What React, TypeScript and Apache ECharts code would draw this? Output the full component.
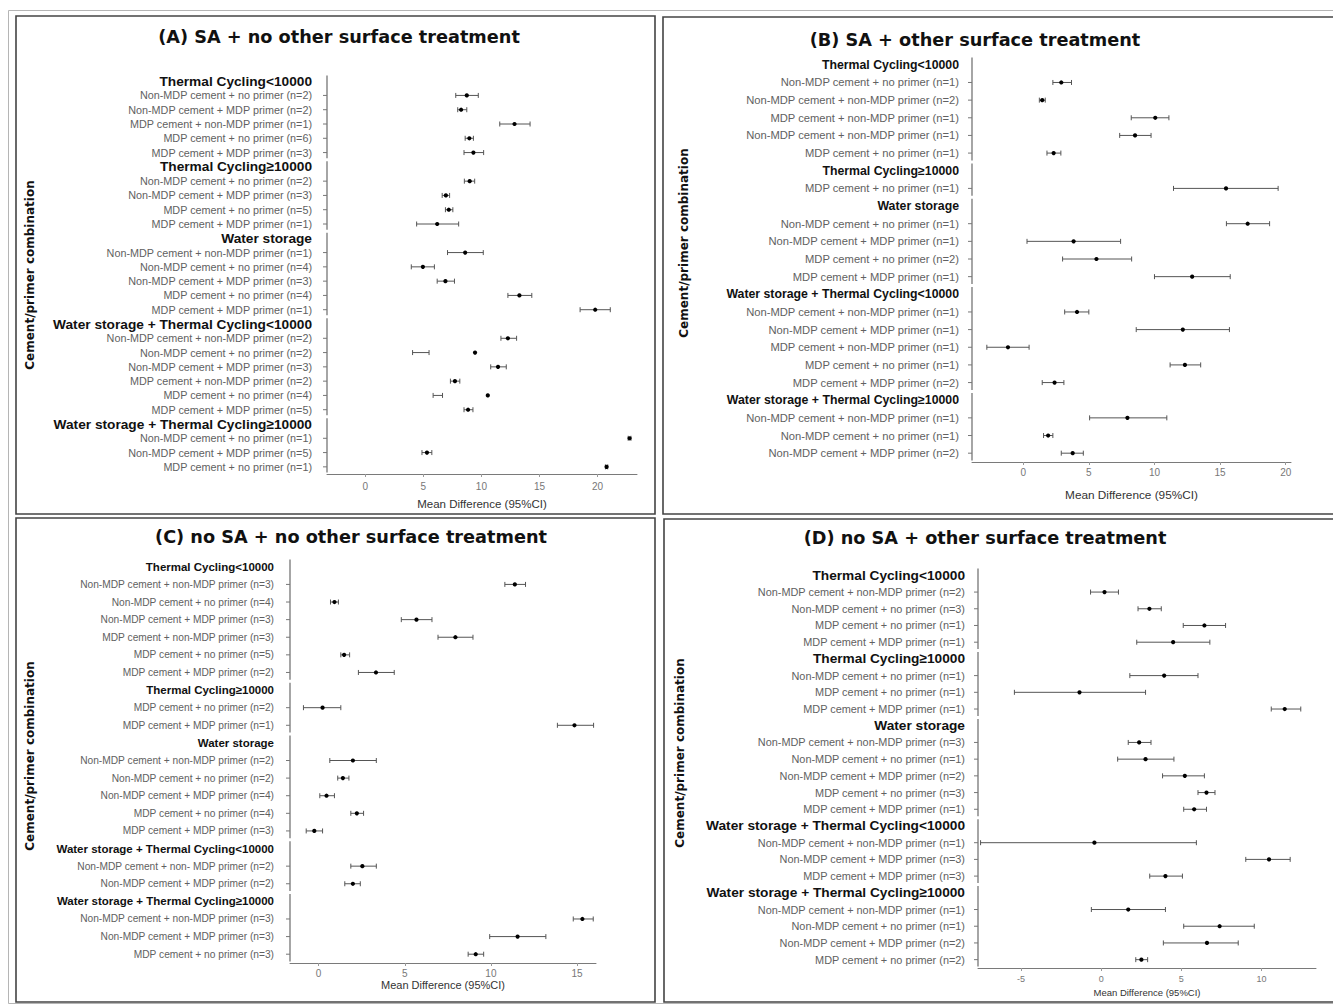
import React, { useEffect, useRef } from "react";
import * as echarts from "echarts";

// ---------- shared group headers ----------
const groupNames = [
  "Thermal Cycling<10000",
  "Thermal Cycling≥10000",
  "Water storage",
  "Water storage + Thermal Cycling<10000",
  "Water storage + Thermal Cycling≥10000",
];

// ---------- Panel A: SA + no other surface treatment ----------
const aLabels = [
  ["Non-MDP cement + no primer (n=2)", "Non-MDP cement + MDP primer (n=2)", "MDP cement + non-MDP primer (n=1)", "MDP cement + no primer (n=6)", "MDP cement + MDP primer (n=3)"],
  ["Non-MDP cement + no primer (n=2)", "Non-MDP cement + MDP primer (n=3)", "MDP cement + no primer (n=5)", "MDP cement + MDP primer (n=1)"],
  ["Non-MDP cement + non-MDP primer (n=1)", "Non-MDP cement + no primer (n=4)", "Non-MDP cement + MDP primer (n=3)", "MDP cement + no primer (n=4)", "MDP cement + MDP primer (n=1)"],
  ["Non-MDP cement + non-MDP primer (n=2)", "Non-MDP cement + no primer (n=2)", "Non-MDP cement + MDP primer (n=3)", "MDP cement + non-MDP primer (n=2)", "MDP cement + no primer (n=4)", "MDP cement + MDP primer (n=5)"],
  ["Non-MDP cement + no primer (n=1)", "Non-MDP cement + MDP primer (n=5)", "MDP cement + no primer (n=1)"],
];
const aMean = [[8.74, 8.25, 12.85, 8.96, 9.31], [8.99, 6.94, 7.19, 6.19], [8.6, 4.96, 6.9, 13.27, 19.8], [12.28, 9.45, 11.43, 7.72, 10.55, 8.85], [22.76, 5.31, 20.78]];
const aLow = [[7.79, 7.96, 11.58, 8.6, 8.5], [8.53, 6.62, 6.9, 4.42], [7.08, 3.96, 6.19, 12.28, 18.5], [11.68, 4.07, 10.8, 7.33, 5.84, 8.5], [22.64, 4.88, 20.68]];
const aHigh = [[9.73, 8.74, 14.19, 9.31, 10.19], [9.42, 7.26, 7.54, 8.04], [10.16, 5.95, 7.68, 14.34, 21.1], [13.03, 5.49, 12.14, 8.14, 6.65, 9.27], [22.88, 5.73, 20.88]];

// ---------- Panel B: SA + other surface treatment ----------
const bLabels = [
  ["Non-MDP cement + no primer (n=1)", "Non-MDP cement + non-MDP primer (n=2)", "MDP cement + non-MDP primer (n=1)", "Non-MDP cement + non-MDP primer (n=1)", "MDP cement + no primer (n=1)"],
  ["MDP cement + no primer (n=1)"],
  ["Non-MDP cement + no primer (n=1)", "Non-MDP cement + MDP primer (n=1)", "MDP cement + no primer (n=2)", "MDP cement + MDP primer (n=1)"],
  ["Non-MDP cement + non-MDP primer (n=1)", "Non-MDP cement + MDP primer (n=1)", "MDP cement + non-MDP primer (n=1)", "MDP cement + no primer (n=1)", "MDP cement + MDP primer (n=2)"],
  ["Non-MDP cement + non-MDP primer (n=1)", "Non-MDP cement + no primer (n=1)", "Non-MDP cement + MDP primer (n=2)"],
];
const bMean = [[2.9, 1.45, 10.06, 8.52, 2.32], [15.45], [17.1, 3.84, 5.58, 12.87], [4.1, 12.16, -1.16, 12.32, 2.39], [7.94, 1.9, 3.77]];
const bLow = [[2.26, 1.23, 8.23, 7.35, 1.81], [11.45], [15.48, 0.29, 3.0, 10.0], [3.16, 8.61, -2.77, 11.19, 1.45], [5.06, 1.55, 2.9]];
const bHigh = [[3.68, 1.68, 11.1, 9.74, 2.87], [19.42], [18.77, 7.42, 8.26, 15.77], [5.0, 15.71, 0.45, 13.52, 3.1], [10.94, 2.26, 4.58]];

// ---------- Panel C: no SA + no other surface treatment ----------
const cLabels = [
  ["Non-MDP cement + non-MDP primer (n=3)", "Non-MDP cement + no primer (n=4)", "Non-MDP cement + MDP primer (n=3)", "MDP cement + non-MDP primer (n=3)", "MDP cement + no primer (n=5)", "MDP cement + MDP primer (n=2)"],
  ["MDP cement + no primer (n=2)", "MDP cement + MDP primer (n=1)"],
  ["Non-MDP cement + non-MDP primer (n=2)", "Non-MDP cement + no primer (n=2)", "Non-MDP cement + MDP primer (n=4)", "MDP cement + no primer (n=4)", "MDP cement + MDP primer (n=3)"],
  ["Non-MDP cement + non- MDP primer (n=2)", "Non-MDP cement + MDP primer (n=2)"],
  ["Non-MDP cement + non-MDP primer (n=3)", "Non-MDP cement + MDP primer (n=3)", "MDP cement + no primer (n=3)"],
];
const cMean = [[11.39, 0.92, 5.68, 7.94, 1.48, 3.33], [0.23, 14.85], [1.99, 1.41, 0.46, 2.22, -0.25], [2.54, 1.99], [15.31, 11.55, 9.12]];
const cLow = [[10.81, 0.69, 4.8, 6.93, 1.29, 2.31], [-0.88, 13.86], [0.65, 1.11, 0.07, 1.87, -0.72], [1.87, 1.52], [14.78, 9.93, 8.68]];
const cHigh = [[12.01, 1.15, 6.58, 8.96, 1.8, 4.39], [1.29, 15.96], [3.35, 1.76, 0.92, 2.61, 0.23], [3.35, 2.42], [15.94, 13.19, 9.58]];

// ---------- Panel D: no SA + other surface treatment ----------
const dLabels = [
  ["Non-MDP cement + non-MDP primer (n=2)", "Non-MDP cement + no primer (n=3)", "MDP cement + no primer (n=1)", "MDP cement + MDP primer (n=1)"],
  ["Non-MDP cement + no primer (n=1)", "MDP cement + no primer (n=1)", "MDP cement + MDP primer (n=1)"],
  ["Non-MDP cement + non-MDP primer (n=3)", "Non-MDP cement + no primer (n=1)", "Non-MDP cement + MDP primer (n=2)", "MDP cement + no primer (n=3)", "MDP cement + MDP primer (n=1)"],
  ["Non-MDP cement + non-MDP primer (n=1)", "Non-MDP cement + MDP primer (n=3)", "MDP cement + MDP primer (n=3)"],
  ["Non-MDP cement + non-MDP primer (n=1)", "Non-MDP cement + no primer (n=1)", "Non-MDP cement + MDP primer (n=2)", "MDP cement + no primer (n=2)"],
];
const dMean = [[0.21, 3.01, 6.44, 4.49], [3.93, -1.35, 11.45], [2.37, 2.77, 5.22, 6.57, 5.8], [-0.42, 10.47, 4.01], [1.69, 7.39, 6.6, 2.51]];
const dLow = [[-0.66, 2.3, 5.12, 2.22], [1.79, -5.41, 10.61], [1.69, 1.03, 3.83, 6.04, 5.15], [-7.52, 9.02, 3.03], [-0.61, 5.15, 3.88, 2.16]];
const dHigh = [[1.08, 3.75, 7.76, 6.78], [6.04, 2.77, 12.45], [3.11, 4.54, 6.44, 7.1, 6.57], [5.94, 11.79, 5.07], [4.01, 9.55, 8.55, 2.9]];

const titles = [
  "(A) SA + no other surface treatment",
  "(B) SA + other surface treatment",
  "(C) no SA + no other surface treatment",
  "(D) no SA + other surface treatment",
];
const yName = "Cement/primer combination";
const xName = "Mean Difference (95%CI)";

// ---------- layout (positions / styles only) ----------
const layouts = [
  { box: [16, 16, 639, 498], title: [339, 37], yName: [30, 275], grid: [327, 74, 310, 400], xMin: -3.3, xMax: 23.4, split: 5, hFont: 13.7, iFont: 10.8, tFont: 10, nFont: 11.5, margin: 15, nameGap: 24, tickMargin: 7 },
  { box: [663, 17, 700, 497], title: [975, 40], yName: [684, 243], grid: [972, 56, 319, 406], xMin: -3.9, xMax: 20.4, split: 5, hFont: 12.3, iFont: 11.2, tFont: 10, nFont: 11.8, margin: 13, nameGap: 27, tickMargin: 5 },
  { box: [16, 518, 639, 484], title: [351, 537], yName: [30, 756], grid: [290, 558, 306, 405], xMin: -1.66, xMax: 16.1, split: 3, hFont: 11.5, iFont: 10.2, tFont: 10, nFont: 11, margin: 16, nameGap: 16, tickMargin: 5 },
  { box: [664, 519, 700, 483], title: [985, 538], yName: [680, 753], grid: [978, 567, 338, 401], xMin: -7.68, xMax: 13.4, split: 5, hFont: 13.7, iFont: 10.9, tFont: 9, nFont: 9.5, margin: 13, nameGap: 19, tickMargin: 6 },
];

const panelData = [
  { labels: aLabels, mean: aMean, low: aLow, high: aHigh },
  { labels: bLabels, mean: bMean, low: bLow, high: bHigh },
  { labels: cLabels, mean: cMean, low: cLow, high: cHigh },
  { labels: dLabels, mean: dMean, low: dLow, high: dHigh },
];

const FONT = "'Liberation Sans', Arial, sans-serif";
const TFONT = "'DejaVu Sans', Verdana, sans-serif";

function buildRows(p) {
  const rows = [];
  const items = [];
  const groups = [];
  p.labels.forEach((g, gi) => {
    const start = rows.length;
    rows.push({ label: groupNames[gi], header: true });
    g.forEach((lab, k) => {
      items.push([p.mean[gi][k], p.low[gi][k], p.high[gi][k], rows.length]);
      rows.push({ label: lab, header: false });
    });
    groups.push([start, rows.length - 1]);
  });
  return { rows, items, groups };
}

export default function App() {
  const ref = useRef(null);
  useEffect(() => {
    const chart = echarts.init(ref.current, null, { renderer: "svg" });
    const built = panelData.map(buildRows);

    const grid = layouts.map((l) => ({ left: l.grid[0], top: l.grid[1], width: l.grid[2], height: l.grid[3], containLabel: false }));
    const xAxis = layouts.map((l, i) => ({
      type: "value",
      gridIndex: i,
      min: l.xMin,
      max: l.xMax,
      splitNumber: l.split,
      axisLine: { show: true, onZero: false, lineStyle: { color: "#7a7a7a", width: 1 } },
      axisTick: { show: true, length: 3, lineStyle: { color: "#999" } },
      axisLabel: { color: "#777", fontSize: l.tFont, fontFamily: FONT, margin: l.tickMargin, showMinLabel: false, showMaxLabel: false },
      splitLine: { show: false },
      name: xName,
      nameLocation: "middle",
      nameGap: l.nameGap,
      nameTextStyle: { color: "#333", fontSize: l.nFont, fontFamily: FONT },
    }));
    const yAxis = layouts.map((l, i) => {
      const rows = built[i].rows;
      return {
        type: "category",
        gridIndex: i,
        inverse: true,
        data: rows.map((r) => r.label),
        axisLine: { show: false, onZero: false },
        axisTick: { show: false },
        axisLabel: {
          interval: 0,
          margin: l.margin,
          formatter: (v, idx) => (rows[idx].header ? "{h|" + v + "}" : "{i|" + v + "}"),
          rich: {
            h: { fontSize: l.hFont, fontWeight: "bold", color: "#111", fontFamily: FONT },
            i: { fontSize: l.iFont, color: "#616161", fontFamily: FONT },
          },
        },
        splitLine: { show: false },
      };
    });

    const series = [];
    layouts.forEach((l, i) => {
      // segmented y-axis line, one segment per group
      series.push({
        type: "custom",
        xAxisIndex: i,
        yAxisIndex: i,
        clip: false,
        data: built[i].groups.map((g) => [l.xMin, g[0], g[1]]),
        encode: { x: 0, y: [1, 2] },
        renderItem: (params, api) => {
          const band = api.size([0, 1])[1];
          const p1 = api.coord([api.value(0), api.value(1)]);
          const p2 = api.coord([api.value(0), api.value(2)]);
          return {
            type: "line",
            shape: { x1: p1[0], y1: p1[1] - band / 2 + 1.5, x2: p2[0], y2: p2[1] + band / 2 - 1.5 },
            style: { stroke: "#6a6a6a", lineWidth: 1.2 },
          };
        },
      });
      // error bars + points + y ticks
      series.push({
        type: "custom",
        xAxisIndex: i,
        yAxisIndex: i,
        clip: false,
        data: built[i].items.map((it) => [it[0], it[1], it[2], it[3], l.xMin]),
        encode: { x: [0, 1, 2], y: 3 },
        renderItem: (params, api) => {
          const y = api.value(3);
          const pm = api.coord([api.value(0), y]);
          const pl = api.coord([api.value(1), y]);
          const ph = api.coord([api.value(2), y]);
          const pa = api.coord([api.value(4), y]);
          const cap = 2.5;
          const st = { stroke: "#555", lineWidth: 1 };
          return {
            type: "group",
            children: [
              { type: "line", shape: { x1: pa[0] - 4, y1: pa[1], x2: pa[0], y2: pa[1] }, style: { stroke: "#777", lineWidth: 1 } },
              { type: "line", shape: { x1: pl[0], y1: pl[1], x2: ph[0], y2: ph[1] }, style: st },
              { type: "line", shape: { x1: pl[0], y1: pl[1] - cap, x2: pl[0], y2: pl[1] + cap }, style: st },
              { type: "line", shape: { x1: ph[0], y1: ph[1] - cap, x2: ph[0], y2: ph[1] + cap }, style: st },
              { type: "circle", shape: { cx: pm[0], cy: pm[1], r: 2.1 }, style: { fill: "#000" } },
            ],
          };
        },
      });
    });

    const graphic = [
      { type: "rect", shape: { x: 8.5, y: 10.5, width: 1340, height: 993 }, style: { fill: "none", stroke: "#b5b5b5", lineWidth: 1 }, silent: true },
    ];
    layouts.forEach((l, i) => {
      graphic.push({
        type: "rect",
        shape: { x: l.box[0], y: l.box[1], width: l.box[2], height: l.box[3] },
        style: { fill: "none", stroke: "#444", lineWidth: 1.6 },
        silent: true,
      });
      graphic.push({
        type: "text",
        x: l.title[0],
        y: l.title[1],
        style: { text: titles[i], fontSize: 17.7, fontWeight: "bold", fontFamily: TFONT, fill: "#111", align: "center", verticalAlign: "middle", textAlign: "center", textVerticalAlign: "middle" },
        silent: true,
      });
      graphic.push({
        type: "text",
        x: l.yName[0],
        y: l.yName[1],
        rotation: Math.PI / 2,
        style: { text: yName, fontSize: 12, fontWeight: "bold", fontFamily: TFONT, fill: "#111", align: "center", verticalAlign: "middle", textAlign: "center", textVerticalAlign: "middle" },
        silent: true,
      });
    });

    chart.setOption({
      animation: false,
      backgroundColor: "#fff",
      grid,
      xAxis,
      yAxis,
      series,
      graphic,
    });
    return () => chart.dispose();
  }, []);
  return <div ref={ref} style={{ position: "absolute", left: 0, top: 0, width: 1333, height: 1004 }} />;
}
